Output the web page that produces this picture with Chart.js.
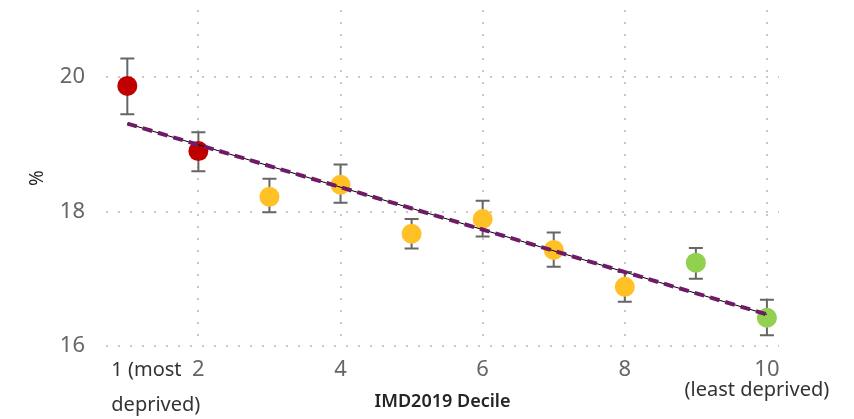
<!DOCTYPE html>
<html>
<head>
<meta charset="utf-8">
<script src="https://cdn.jsdelivr.net/npm/chart.js@4"></script>
<style>
  html, body { margin: 0; padding: 0; background: #fff; }
  #wrap { width: 854px; height: 419px; position: relative; }
</style>
</head>
<body>
<div id="wrap"><canvas id="chart"></canvas></div>
<script>
// Data
const deciles = [1, 2, 3, 4, 5, 6, 7, 8, 9, 10]
const values = [19.87, 18.9, 18.22, 18.4, 17.67, 17.89, 17.43, 16.88, 17.24, 16.42]
const upper = [20.28, 19.18, 18.49, 18.7, 17.89, 18.16, 17.69, 17.1, 17.46, 16.69]
const lower = [19.45, 18.6, 17.99, 18.13, 17.45, 17.63, 17.18, 16.66, 17.0, 16.16]
const trendX = [1, 10]
const trendY = [19.31, 16.47]
const xTicks = [2, 4, 6, 8, 10]
const yTicks = [16, 18, 20]

// Styles
const RED = "#C00000"
const AMBER = "#FFC125"
const GREEN = "#92D050"
const pointColors = [RED, RED, AMBER, AMBER, AMBER, AMBER, AMBER, AMBER, GREEN, GREEN]
const FONT = "'Noto Sans', 'Open Sans', sans-serif"

// Error bars, drawn under the points
const errorBars = {
  id: "errorBars",
  beforeDatasetsDraw(chart) {
    const ctx = chart.ctx
    const xs = chart.scales.x
    const ys = chart.scales.y
    ctx.save()
    ctx.strokeStyle = "#666666"
    ctx.lineWidth = 2
    deciles.forEach((d, i) => {
      const x = xs.getPixelForValue(d)
      const yTop = ys.getPixelForValue(upper[i])
      const yBot = ys.getPixelForValue(lower[i])
      ctx.beginPath()
      ctx.moveTo(x, yTop)
      ctx.lineTo(x, yBot)
      ctx.moveTo(x - 7, yTop)
      ctx.lineTo(x + 7, yTop)
      ctx.moveTo(x - 7, yBot)
      ctx.lineTo(x + 7, yBot)
      ctx.stroke()
    })
    ctx.restore()
  },
}

// Extra captions around the x axis
const captions = {
  id: "captions",
  afterDraw(chart) {
    const ctx = chart.ctx
    const xs = chart.scales.x
    const x1 = xs.getPixelForValue(1)
    const x10 = xs.getPixelForValue(10)
    ctx.save()
    ctx.fillStyle = "#333333"
    ctx.textBaseline = "middle"
    ctx.font = "20px " + FONT
    ctx.textAlign = "left"
    ctx.fillText("1 (most", x1 - 16, 370)
    ctx.fillText("deprived)", x1 - 16, 405)
    ctx.textAlign = "center"
    ctx.fillText("(least deprived)", x10 - 10, 390)
    ctx.restore()
  },
}

const gridStyle = { color: "#C8C8C8", lineWidth: 2, drawTicks: false }

new Chart(document.getElementById("chart"), {
  data: {
    datasets: [
      {
        type: "line",
        data: trendX.map((x, i) => ({ x: x, y: trendY[i] })),
        borderColor: "#701B68",
        borderWidth: 4,
        borderDash: [10, 6],
        pointRadius: 0,
        order: 0,
      },
      {
        type: "line",
        data: trendX.map((x, i) => ({ x: x, y: trendY[i] })),
        borderColor: "#000000",
        borderWidth: 1,
        pointRadius: 0,
        order: 0,
      },
      {
        type: "scatter",
        data: deciles.map((d, i) => ({ x: d, y: values[i] })),
        pointRadius: 10,
        pointHoverRadius: 10,
        pointBorderWidth: 0,
        pointBackgroundColor: pointColors,
        order: 1,
      },
    ],
  },
  options: {
    responsive: true,
    maintainAspectRatio: false,
    animation: false,
    layout: { padding: { left: 0, right: 75, top: 10, bottom: 0 } },
    plugins: { legend: { display: false }, tooltip: { enabled: false } },
    scales: {
      x: {
        type: "linear",
        min: 0.7,
        max: 10.17,
        afterBuildTicks: (scale) => { scale.ticks = xTicks.map((v) => ({ value: v })) },
        afterFit: (scale) => {
          scale.height = 73
          scale.paddingLeft = 0
          scale.paddingRight = 0
        },
        grid: gridStyle,
        border: { display: false, dash: [2, 10] },
        ticks: { color: "#666666", padding: 11, maxRotation: 0, font: { family: FONT, size: 22 } },
        title: {
          display: true,
          text: "IMD2019 Decile",
          color: "#252423",
          padding: { top: 0, bottom: 6 },
          font: { family: FONT, size: 18, weight: "600" },
        },
      },
      y: {
        min: 16,
        max: 21,
        afterBuildTicks: (scale) => { scale.ticks = yTicks.map((v) => ({ value: v })) },
        afterFit: (scale) => {
          scale.width = 106
          scale.paddingTop = 0
          scale.paddingBottom = 0
        },
        grid: gridStyle,
        border: { display: false, dash: [2, 10] },
        ticks: { color: "#666666", padding: 21, font: { family: FONT, size: 22 } },
        title: {
          display: true,
          text: "%",
          color: "#252423",
          padding: { top: 26, bottom: 0 },
          font: { family: FONT, size: 19 },
        },
      },
    },
  },
  plugins: [errorBars, captions],
})
</script>
</body>
</html>
